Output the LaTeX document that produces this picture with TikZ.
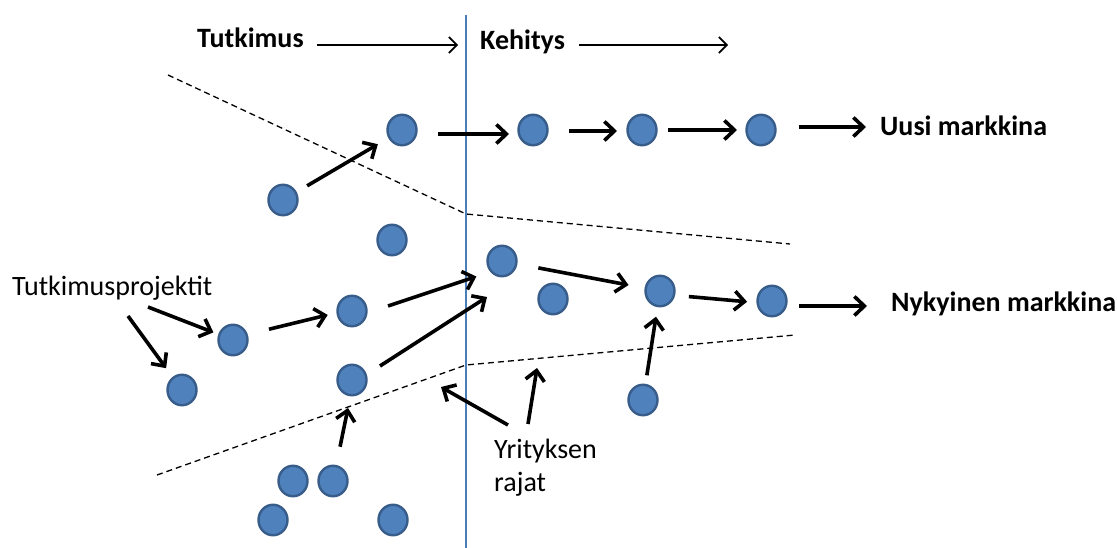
\documentclass[tikz,border=0pt]{standalone}
\usepackage{fontspec}
\setmainfont{Carlito}
\usetikzlibrary{arrows.meta,calc,shapes.geometric}
\definecolor{dotfill}{HTML}{4F81BD}
\definecolor{dotline}{HTML}{385D8A}
\definecolor{divider}{HTML}{4A7EBB}
\begin{document}
\begin{tikzpicture}[x=1pt,y=-1pt,
  dot/.style={ellipse, fill=dotfill, draw=dotline, line width=2.4pt, minimum width=29pt, minimum height=30.5pt, inner sep=0pt},
  flow/.style={line width=3.6pt, -{Straight Barb[length=10pt,width=19pt]}},
  thinflow/.style={line width=1.6pt, -{Straight Barb[length=8pt,width=16pt]}},
  bound/.style={dash pattern=on 6pt off 4pt, line width=1.3pt},
  lbl/.style={font=\fontsize{28}{34}\selectfont, inner sep=0pt, anchor=base west},
  hd/.style={font=\bfseries\fontsize{28}{34}\selectfont, inner sep=0pt, anchor=base west}]
\useasboundingbox (0,0) rectangle (1117,548);
\fill[white] (0,0) rectangle (1117,548);

% divider and boundaries
\draw[divider, line width=1.3pt] (466,15) -- (466,548);
\draw[bound] (168,75) -- (466,214) -- (790,244);
\draw[bound] (157,475) -- (466,365) -- (795,335);

% labels
\node[hd] (tut) at (197,48) {Tutkimus};
\node[hd] (keh) at (480,50) {Kehitys};
\node[hd] (uusi) at (880,136) {Uusi markkina};
\node[hd] (nyk) at (891,311) {Nykyinen markkina};
\node[lbl] (tp) at (12,295) {Tutkimusprojektit};
\node[lbl] (yr) at (494,458) {Yrityksen};
\node[lbl] (yr2) at (494,491.5) {rajat};

% dots
\node[dot] (a1) at (283,200) {};
\node[dot] (a2) at (402,130) {};
\node[dot] (a3) at (533,130) {};
\node[dot] (a4) at (642,130) {};
\node[dot] (a5) at (761,130) {};
\node[dot] (m1) at (392,240) {};
\node[dot] (e) at (502,261) {};
\node[dot] (m2) at (553,299) {};
\node[dot] (g) at (660,291) {};
\node[dot] (h) at (772,301) {};
\node[dot] (d) at (352,311) {};
\node[dot] (b) at (233,340) {};
\node[dot] (c) at (182,390) {};
\node[dot] (f) at (352,380) {};
\node[dot] (i) at (643,400) {};
\node[dot] (p1) at (293,481) {};
\node[dot] (p2) at (333,481) {};
\node[dot] (p3) at (273,520) {};
\node[dot] (p4) at (393,520) {};

% free ends
\coordinate (tutend) at (458,45);
\coordinate (kehend) at (728,45);
\coordinate (tp1) at ($(tp.base west)+(136,12)$);
\coordinate (tp2) at ($(tp.base west)+(116,21)$);
\coordinate (lowb) at (348,408);
\coordinate (yb1) at (441,387);
\coordinate (yb2) at (537,368);

% heading arrows
\draw[thinflow] ([shift={(13,-3)}]tut.base east) -- (tutend);
\draw[thinflow] ([shift={(14,-5)}]keh.base east) -- (kehend);

% flow arrows
\draw[flow, shorten <=28pt, shorten >=28pt] (a1.center) -- (a2.center);
\draw[flow, shorten <=36pt, shorten >=24pt] ([yshift=-4pt]a2.center) -- ([yshift=-4pt]a3.center);
\draw[flow, shorten <=36pt, shorten >=25pt] ([yshift=-1pt]a3.center) -- ([yshift=-1pt]a4.center);
\draw[flow, shorten <=26pt, shorten >=24pt] (a4.center) -- (a5.center);
\draw[flow, shorten <=38pt, shorten >=14pt] ([yshift=3pt]a5.center) -- ([yshift=3pt]a5.center -| uusi.west);

\draw[flow, shorten >=21pt] (tp1) -- (b.center);
\draw[flow, shorten >=27pt] (tp2) -- (c.center);
\draw[flow, shorten <=37pt, shorten >=25pt] ([yshift=2pt]b.center) -- ([yshift=2pt]d.center);
\draw[flow, shorten <=38pt, shorten >=27pt] ([yshift=-7pt]d.center) -- ([yshift=-7pt]e.center);
\draw[flow] ($(f)+(28,-14)$) -- ($(e)+(-15,36)$);
\draw[flow, shorten <=37pt, shorten >=32pt] (e.center) -- (g.center);
\draw[flow, shorten <=29pt, shorten >=25pt] ([yshift=-3pt]g.center) -- ([yshift=-3pt]h.center);
\draw[flow, shorten <=27pt, shorten >=24pt] ([yshift=-5pt]h.center) -- ([yshift=-5pt]h.center -| nyk.west);
\draw[flow, shorten <=25pt, shorten >=26pt] (i.center) -- (g.center);
\draw[flow, shorten <=35pt] (p2.center) -- (lowb);
\draw[flow] ($(yr.base west)+(14,-33)$) -- (yb1);
\draw[flow] ($(yr.base west)+(34,-34)$) -- (yb2);
\end{tikzpicture}
\end{document}
